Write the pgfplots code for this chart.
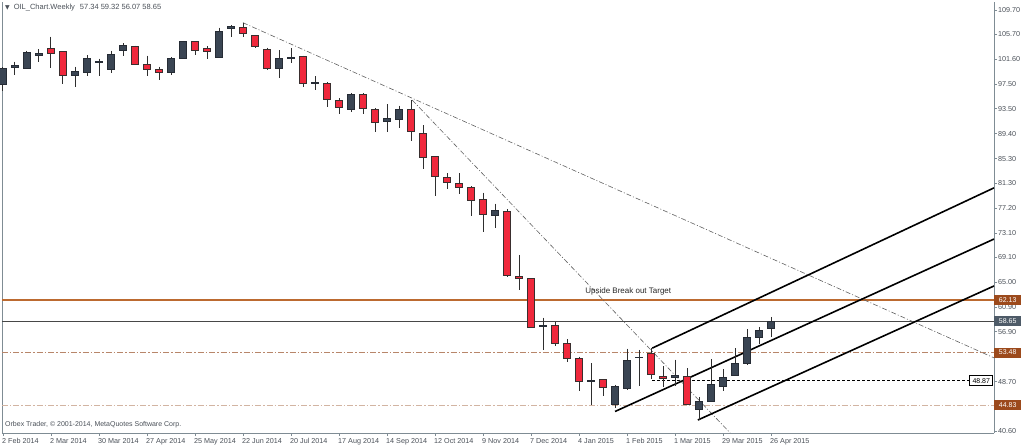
\documentclass[border=0pt]{standalone}
\usepackage{pgfplots}
\pgfplotsset{compat=1.18}
\usepackage{pgfplotstable}
\usepackage{fontspec}
\setmainfont{Liberation Sans}
\newfontfamily\dejavu{DejaVu Sans}

\definecolor{bull}{HTML}{3A4553}
\definecolor{bullborder}{HTML}{262C35}
\definecolor{bear}{HTML}{F0283C}
\definecolor{bearborder}{HTML}{3A2E2E}
\definecolor{wick}{HTML}{2E2E2E}
\definecolor{axisgray}{HTML}{7F8C94}
\definecolor{labelgray}{HTML}{4A5058}
\definecolor{brownline}{HTML}{BC6A30}
\definecolor{brownbox}{HTML}{9C4A1C}
\definecolor{brownddot}{HTML}{B8866A}
\definecolor{tanddot}{HTML}{D2B4A2}
\definecolor{pricebox}{HTML}{4E5B68}
\definecolor{trendgray}{HTML}{606060}

\pgfdeclareplotmark{nomark}{}

\pgfplotstableread{
i O H L C
0 97.5 100.3 96.4 100.1
1 100.3 101.2 99.1 100.5
2 100.1 103.0 100.0 102.7
3 102.15 103.25 101.1 102.6
4 103.35 105.3 100.1 102.5
5 102.9 102.9 97.6 99.0
6 98.9 100.4 97.1 99.6
7 99.4 102.3 98.8 101.7
8 101.1 101.7 98.8 101.3
9 100.0 103.0 99.3 102.4
10 103.1 104.2 102.2 103.8
11 103.7 103.85 100.6 100.7
12 100.7 102.2 98.8 99.9
13 100.0 100.4 98.2 99.5
14 99.4 102.0 99.1 101.7
15 101.7 104.6 101.6 104.45
16 104.45 104.5 102.3 103.0
17 103.35 103.7 101.6 102.85
18 101.9 106.8 101.9 106.15
19 106.7 107.2 105.2 106.9
20 106.8 107.6 105.2 105.8
21 105.5 105.6 103.5 103.7
22 103.25 103.5 99.85 100.1
23 100.1 103.1 98.6 101.8
24 101.8 103.4 101.0 101.95
25 102.0 102.2 97.1 97.7
26 97.6 98.8 96.6 97.8
27 97.6 97.8 93.8 95.0
28 94.9 95.2 92.6 93.7
29 93.3 96.0 93.0 95.9
30 95.9 96.0 92.6 93.6
31 93.4 93.6 89.6 91.3
32 91.4 94.2 89.7 91.8
33 91.65 94.0 90.4 93.4
34 93.4 94.9 88.2 89.7
35 89.5 90.8 83.6 85.5
36 85.6 85.7 79.1 82.35
37 82.2 82.9 80.3 81.4
38 81.25 82.9 79.45 80.6
39 80.6 80.8 75.9 78.5
40 78.6 79.7 73.2 76.1
41 75.9 77.9 73.9 76.8
42 76.6 77.0 65.9 66.05
43 66.0 69.5 63.75 65.7
44 65.6 65.7 57.5 57.6
45 57.8 59.2 53.9 57.9
46 57.85 58.55 54.55 54.9
47 55.0 55.65 52.0 52.5
48 52.5 52.8 47.2 48.7
49 48.8 51.7 44.9 48.85
50 49.1 49.1 46.35 47.8
51 44.9 48.15 44.3 47.9
52 47.6 54.1 47.3 52.1
53 52.6 53.9 48.0 52.7
54 53.35 54.2 49.1 49.8
55 49.5 51.2 47.8 49.15
56 49.3 52.3 48.0 49.7
57 49.5 50.9 44.9 45.0
58 44.1 46.2 42.4 45.4
59 45.4 52.4 45.3 48.3
60 47.9 50.7 47.1 49.4
61 49.65 54.2 49.6 51.6
62 51.7 57.3 51.4 56.0
63 56.0 57.7 54.8 57.1
64 57.34 59.32 56.07 58.65
}\candles

% y scale of the axis below: 431pt over (111.0 - 40.27) units
\def\yunit{6.0936}

\pgfplotsset{
  candle/.style={
    only marks, scatter, mark=nomark,
    visualization depends on={\thisrow{O} \as \vO},
    visualization depends on={\thisrow{H} \as \vH},
    visualization depends on={\thisrow{L} \as \vL},
    visualization depends on={\thisrow{C} \as \vC},
    scatter/@pre marker code/.code={%
      \pgfmathsetmacro\dO{(\vO-\vC)*\yunit}%
      \pgfmathsetmacro\dH{(\vH-\vC)*\yunit}%
      \pgfmathsetmacro\dL{(\vL-\vC)*\yunit}%
      \draw[wick, line width=1pt] (0pt,\dH pt) -- (0pt,\dL pt);
      \pgfmathparse{\vC>=\vO ? 1 : 0}%
      \ifnum\pgfmathresult=1
        \filldraw[fill=bull, draw=bullborder, line width=1pt] (-3.2pt,\dO pt) rectangle (3.2pt,0pt);
      \else
        \filldraw[fill=bear, draw=bearborder, line width=1pt] (-3.2pt,\dO pt) rectangle (3.2pt,0pt);
      \fi
      \begin{scope}
    },
    scatter/@post marker code/.code={\end{scope}},
  }
}

\begin{document}
\begin{tikzpicture}
\path[use as bounding box] (-2pt,-14pt) rectangle (1022pt,433pt);
\begin{axis}[
  scale only axis, width=992pt, height=431pt,
  xmin=-0.083, xmax=82.58, ymin=40.27, ymax=111.0,
  clip mode=individual,
  axis x line*=bottom, axis y line*=right,
  axis line style={draw=axisgray},
  tick style={draw=axisgray, thin},
  tick align=outside, major tick length=3pt,
  xtick={0,4,...,64},
  xticklabels={2 Feb 2014,2 Mar 2014,30 Mar 2014,27 Apr 2014,25 May 2014,22 Jun 2014,20 Jul 2014,17 Aug 2014,14 Sep 2014,12 Oct 2014,9 Nov 2014,7 Dec 2014,4 Jan 2015,1 Feb 2015,1 Mar 2015,29 Mar 2015,26 Apr 2015},
  ytick={109.7,105.7,101.6,97.5,93.5,89.4,85.3,81.3,77.2,73.1,69.1,65.0,60.9,56.9,52.8,48.7,44.6,40.6},
  yticklabels={109.70,105.70,101.60,97.50,93.50,89.40,85.30,81.30,77.20,73.10,69.10,65.00,60.90,56.90,,48.70,,40.60},
  ticklabel style={font=\fontsize{7.2}{8}\selectfont, text=labelgray},
  xticklabel style={anchor=north west, inner sep=0pt, xshift=-1pt, yshift=-2pt},
  yticklabel style={anchor=west, inner sep=0pt, xshift=1pt},
]
% left border
\draw[axisgray] (rel axis cs:0,0) -- (rel axis cs:0,1);

% horizontal levels
\addplot[brownline, line width=1.5pt] coordinates {(-0.083,62.13) (82.58,62.13)};
\addplot[black!72, line width=0.9pt] coordinates {(-0.083,58.65) (82.58,58.65)};
\addplot[brownddot, line width=0.9pt, dash pattern=on 6pt off 2pt on 1.5pt off 2pt] coordinates {(-0.083,53.48) (82.58,53.48)};
\addplot[tanddot, line width=1pt, dash pattern=on 6pt off 2pt on 1.5pt off 2pt] coordinates {(-0.083,44.83) (82.58,44.83)};
\addplot[black, line width=0.6pt, dash pattern=on 3pt off 2pt] coordinates {(54.1,48.87) (80.7,48.87)};

% trend lines
\addplot[trendgray, line width=0.6pt, dash pattern=on 5pt off 2pt on 1pt off 2pt] coordinates {(20,107.6) (82.58,52.6)};
\addplot[trendgray, line width=0.6pt, dash pattern=on 5pt off 2pt on 1pt off 2pt] coordinates {(34.1,94.9) (60.6,40.27)};

% channel
\addplot[black, line width=1.6pt] coordinates {(54.1,54.2) (82.58,80.5)};
\addplot[black, line width=1.6pt] coordinates {(51,43.8) (82.58,72.1)};
\addplot[black, line width=1.6pt] coordinates {(57.9,42.4) (82.58,64.4)};

% candles
\addplot[candle] table[x=i, y=C] {\candles};

\node[font=\fontsize{8}{9}\selectfont, text=black!85] at (axis cs:52.1,63.45) {Upside Break out Target};

% right price boxes
\node[anchor=west, fill=brownbox, text=white, inner sep=0pt, minimum height=10pt, minimum width=27pt, font=\fontsize{7}{8}\selectfont] at (axis cs:82.58,62.13) {62.13};
\node[anchor=west, fill=pricebox, text=white, inner sep=0pt, minimum height=10pt, minimum width=27pt, font=\fontsize{7}{8}\selectfont] at (axis cs:82.58,58.65) {58.65};
\node[anchor=west, fill=brownbox, text=white, inner sep=0pt, minimum height=10pt, minimum width=27pt, font=\fontsize{7}{8}\selectfont] at (axis cs:82.58,53.48) {53.48};
\node[anchor=west, fill=brownbox, text=white, inner sep=0pt, minimum height=10pt, minimum width=27pt, font=\fontsize{7}{8}\selectfont] at (axis cs:82.58,44.83) {44.83};
\node[anchor=east, fill=white, draw=black, line width=0.6pt, text=black, inner sep=0pt, minimum height=10pt, minimum width=23pt, font=\fontsize{7}{8}\selectfont] at (axis cs:82.5,48.87) {48.87};
\end{axis}
% header and footer
\node[anchor=west, inner sep=0pt, text=labelgray] at (3pt,425pt) {{\dejavu\fontsize{6}{7}\selectfont ▼}\hspace{4pt}\fontsize{7.5}{8}\selectfont OIL\_Chart.Weekly\hspace{5pt}57.34 59.32 56.07 58.65};
\node[anchor=west, inner sep=0pt, text=labelgray, font=\fontsize{7}{8}\selectfont] at (3pt,8pt) {Orbex Trader, © 2001-2014, MetaQuotes Software Corp.};
\end{tikzpicture}
\end{document}
